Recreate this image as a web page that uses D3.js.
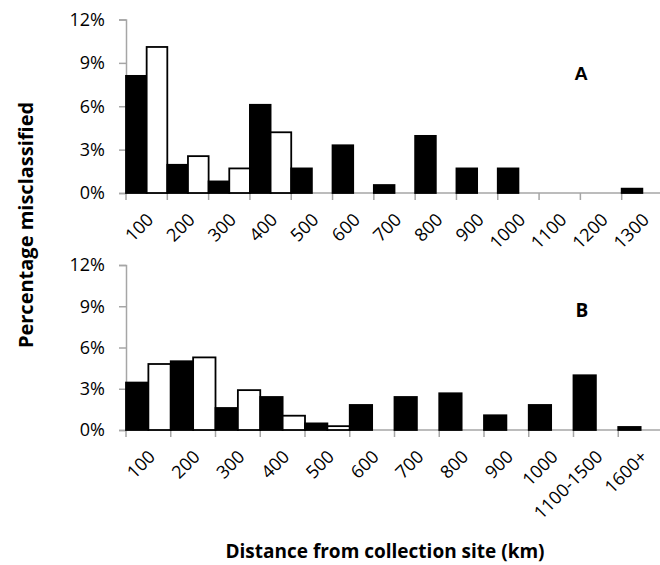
<!DOCTYPE html>
<html>
<head>
<meta charset="utf-8">
<script src="https://cdn.jsdelivr.net/npm/d3@7"></script>
<style>
  body { margin: 0; background: #fff; }
  svg { display: block; }
</style>
</head>
<body>
<script>
// panel A categories and values (percent misclassified)
const catsA = ["100", "200", "300", "400", "500", "600", "700", "800", "900", "1000", "1100", "1200", "1300"];
const blackA = [8.1, 1.95, 0.8, 6.1, 1.7, 3.3, 0.55, 3.95, 1.7, 1.7, 0, 0, 0.3];
const whiteA = [10.1, 2.55, 1.7, 4.2, 0, 0, 0, 0, 0, 0, 0, 0, 0];

// panel B categories and values
const catsB = ["100", "200", "300", "400", "500", "600", "700", "800", "900", "1000", "1100-1500", "1600+"];
const blackB = [3.45, 5.0, 1.6, 2.4, 0.48, 1.82, 2.4, 2.67, 1.07, 1.82, 3.98, 0.22];
const whiteB = [4.8, 5.28, 2.9, 1.04, 0.28, 0, 0, 0, 0, 0, 0, 0];

const yTicks = [0, 3, 6, 9, 12];

const W = 660, H = 565;
const axisColor = "#a6a6a6";
const font = "'Open Sans', Lato, sans-serif";

const svg = d3.select("body")
  .append("svg")
    .attr("width", W)
    .attr("height", H);

function drawPanel(cats, black, white, top, bottom, label, labelX, labelY, labelFont) {
  const x = d3.scaleBand()
    .domain(cats)
    .range([126, 663])
    .padding(0);

  const sub = d3.scaleBand()
    .domain(["black", "white"])
    .range([0, x.bandwidth()])
    .padding(0);

  const y = d3.scaleLinear()
    .domain([0, 12])
    .range([bottom, top]);

  const g = svg.append("g");

  // y axis
  const yAxis = g.append("g")
    .attr("transform", "translate(126,0)")
    .call(d3.axisLeft(y).tickValues(yTicks).tickSize(7).tickFormat(d => d + "%"));
  yAxis.select(".domain").attr("stroke", axisColor).attr("stroke-width", 1.5);
  yAxis.selectAll(".tick line").attr("stroke", axisColor).attr("stroke-width", 1.5);
  yAxis.selectAll(".tick text")
    .attr("x", -21)
    .attr("fill", "#000")
    .style("font-family", font)
    .style("font-size", "18px");

  // x axis: ticks sit on the category boundaries
  const xAxis = g.append("g")
    .attr("transform", "translate(0," + bottom + ")");
  xAxis.append("line")
    .attr("x1", x.range()[0]).attr("x2", x.range()[1])
    .attr("stroke", axisColor).attr("stroke-width", 1.5);
  xAxis.selectAll(".xtick")
    .data(cats)
    .enter().append("line")
      .attr("class", "xtick")
      .attr("x1", d => x(d)).attr("x2", d => x(d))
      .attr("y1", 0).attr("y2", 7)
      .attr("stroke", axisColor).attr("stroke-width", 1.5);
  xAxis.selectAll(".xlabel")
    .data(cats)
    .enter().append("text")
      .attr("class", "xlabel")
      .attr("text-anchor", "end")
      .attr("transform", d => "translate(" + (x(d) + x.bandwidth() / 2 + 8) + ",28) rotate(-45)")
      .style("font-family", font)
      .style("font-size", "18px")
      .text(d => d);

  // bars
  const rows = [];
  cats.forEach((c, i) => {
    rows.push({cat: c, series: "black", value: black[i]});
    rows.push({cat: c, series: "white", value: white[i]});
  });

  g.selectAll("rect.bar")
    .data(rows.filter(d => d.value > 0))
    .enter().append("rect")
      .attr("class", "bar")
      .attr("x", d => x(d.cat) + sub(d.series))
      .attr("y", d => y(d.value))
      .attr("width", sub.bandwidth())
      .attr("height", d => y(0) - y(d.value))
      .attr("fill", d => d.series === "black" ? "#000" : "#fff")
      .attr("stroke", "#000")
      .attr("stroke-width", 1.8);

  g.append("text")
    .attr("x", labelX)
    .attr("y", labelY)
    .attr("text-anchor", "middle")
    .style("font-family", labelFont)
    .style("font-weight", "bold")
    .style("font-size", "19px")
    .text(label);
}

drawPanel(catsA, blackA, whiteA, 19.5, 193, "A", 581, 80, "'Liberation Sans', Arial, sans-serif");
drawPanel(catsB, blackB, whiteB, 265, 430, "B", 582, 317, font);

// axis titles
svg.append("text")
  .attr("transform", "translate(33,225) rotate(-90)")
  .attr("text-anchor", "middle")
  .style("font-family", font)
  .style("font-weight", "bold")
  .style("font-size", "20px")
  .text("Percentage misclassified");

svg.append("text")
  .attr("x", 385)
  .attr("y", 558)
  .attr("text-anchor", "middle")
  .style("font-family", font)
  .style("font-weight", "bold")
  .style("font-size", "19px")
  .text("Distance from collection site (km)");
</script>
</body>
</html>
